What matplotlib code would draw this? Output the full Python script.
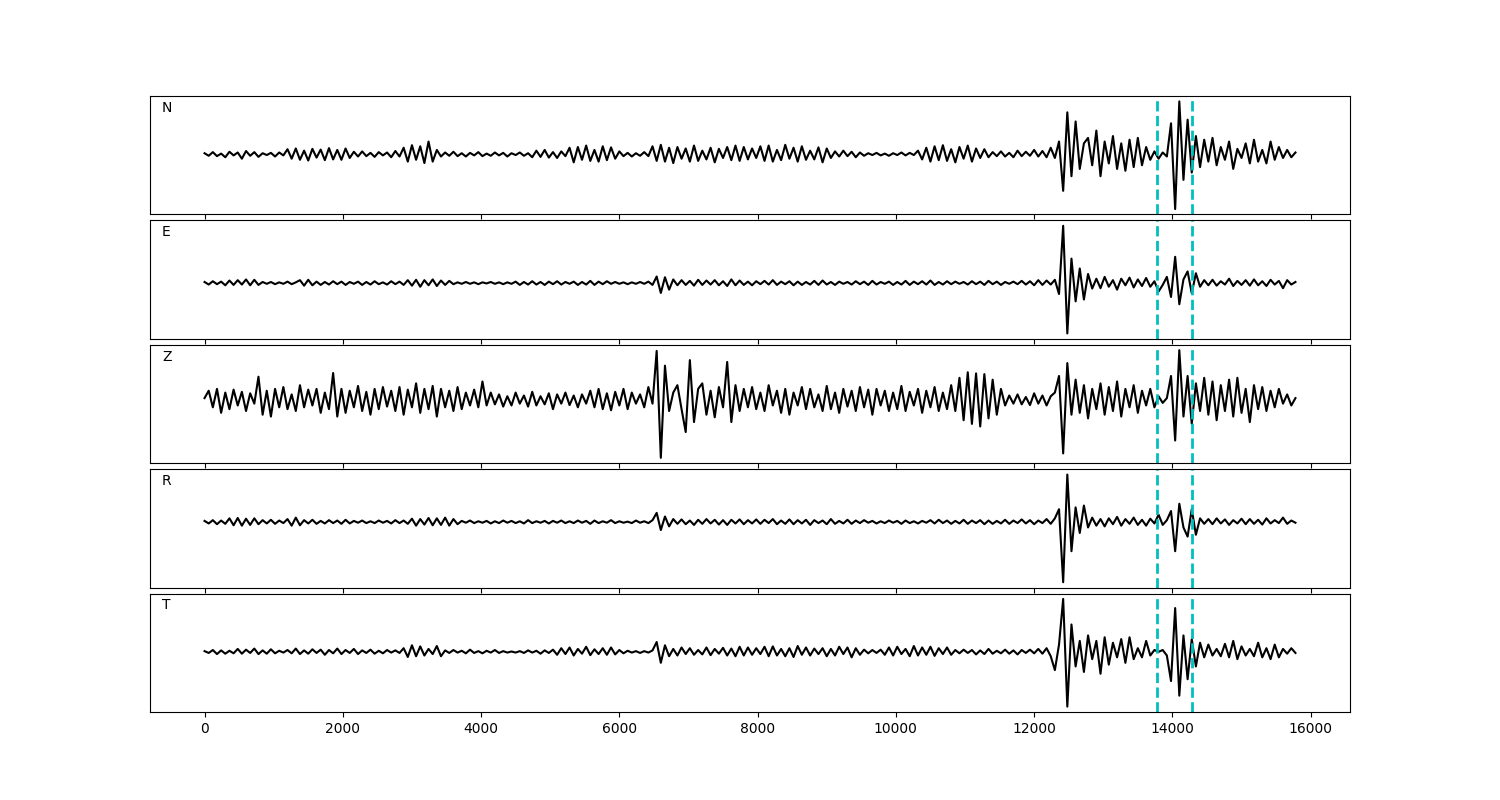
import numpy as np
import matplotlib
matplotlib.use('Agg')
import matplotlib.pyplot as plt

# one value every 60 samples (relative amplitude)
STEP = 60
components = ['N', 'E', 'Z', 'R', 'T']
picks = [13780, 14280]

trace_n = [3, -4, 6, -5, 2, -8, 7, -3, 5, -12, 9, -4, 6, -7, 3, -2, 4, -6, 5, -3,
           14, -12, 16, -15, 10, -17, 15, -9, 13, -16, 17, -14, 12, -15, 16, -10,
           7, -6, 8, -5, 4, -7, 6, -3, 5, -8, 9, -6,
           18, -20, 25, -15, 22, -24, 35, -20, 12,
           -6, 5, -4, 7, -5, 3, -6, 4, -3, 6, -5, 2, -4, 5, -3, 4, -6, 3, -2, 5, -4, 3,
           -8, 10, -7, 12, -9, 6, -10, 8, -5,
           18, -22, 20, -15, 24, -18, 12, -20, 22, -16, 19, -12, 8,
           -5, 4, -6, 3, -4, 6, -5,
           22, -18, 26, -20, 18, -24, 20, -12, 16, -20, 24, -18, 10, -14, 18, -22, 15, -10, 20, -16, 24, -18,
           20, -14, 16, -10, 22, -18, 24, -20, 12, -16, 26, -12, 18, -20, 22, -15, 10, -14, 19, -22, 16, -10,
           8, -6, 10, -5, 7, -8, 5,
           -4, 3, -2, 4, -3, 2, -4, 3, -2, 5, -3, 4, -2,
           10, -14, 18, -20, 22, -16, 25, -18, 14, -22, 20, -12, 24, -20, 16, -10, 14, -8, 6,
           -5, 8, -6, 4, -8, 10, -5, 7, -4, 12, -6, 9, -8, 18,
           -10, 35, -100, 115, -60, 90, -40, 30,
           45, -30, 65, -60, 35, -25, 50, -40, 30, -45, 40, -35, 45, -30, 20, -15,
           8, -12, 5, -6,
           85, -150, 145, -70, 95, -50,
           50, -35, 40, -20, 45, -30, 20, -15, 35, -40, 15, -10, 30, -25, 40, -20, 12, -25, 35, -15, 20, -10, 12, -8, 5]

trace_e = [3, -4, 5, -3, 4, -6, 7, -5, 8, -4, 10, -6, 9, -5,
           3, -2, 3, -3, 2, -2, 4, -3, 2,
           8, -7, 9, -6,
           4, -5, 3, -4, 5, -3, 4, -5, 3, -2, 4, -5, 3, -4, 5, -3, 2, -4, 5, -3, 4, -5,
           8, -7, 9, -10, 8, -6, 10, -8, 7, -5, 6,
           -3, 2, -2, 3, -2, 2, -3, 2, -1, 3, -2, 2, -3, 2, -2,
           4, -5, 3, -4, 5, -4, 3, -5, 4, -3, 5, -4, 3, -2, 4, -5, 3, -4, 6, -5, 4, -3, 5,
           -2, 3, -2, 2, -3, 2, -2, 3, -2, 4, -5,
           18, -27, 16, -18, 10,
           -6, 8, -5, 6, -7, 9, -5, 7, -4, 8, -6, 5, -8, 10, -6, 7,
           -5, 4, -6, 5, -3, 6, -4, 8, -5, 4, -3, 5, -6, 4, -5, 3, -4, 6, -5, 7,
           -4, 3, -5, 4, -2, 3, -4, 5, -3, 4, -5, 6, -4, 3, -2, 4, -5, 3, -4, 6,
           -5, 4, -3, 5, -4, 7, -5, 3, -4, 5, -3, 4, -2, 3, -4, 5, -3, 4, -5, 6,
           -3, 4, -5, 3, -2, 4, -3, 6, -4, 5, -6, 8, -5, 7, -4,
           9, -30, 157, -138, 67, -50, 40, -45, 25, -15,
           12, -14, 17, -10, 8, -18, 12, -6, 15, -12, 10, -8, 14, -10, 5,
           -23, -5, 17, -38, 72, -58, 10, 32, -28, 27,
           -10, 8, -6, 9, -7, 5, -4, 12, -8, 6, -5, 8, -7, 10, -6, 5, -8, 9, -4, 6, -14, 8, -4, 3]

trace_z = [5, 25, -20, 30, -35, 20, -25, 28, -15, 22, -30, 18, -10, 63, -40, 25, -45, 30, -20, 35, -25, 15, -30, 40, -20, 28, -15,
           30, -35, 20, -25, 73,
           -45, 30, -35, 25, -20, 38, -30, 22, -40, 30, -25, 35, -18, 25,
           -30, 35, -40, 28, -20, 45, -35, 30, -25, 38, -45, 30, -20, 25, -30, 35, -25, 20, -15, 28, -20, 50,
           -15, 20, -12, 15, -18, 10, -15, 20, -10, 12, -18, 22, -15, 10, -12, 18, -25, 15, -10, 20, -14, 12, -20, 15, -10,
           25, -20, 30, -25, 18, -28, 22, -15, 30, -25, 20, -10, 15, -20, 35, -10,
           133, -157, 93, -30, 20, 40, -25, -87, 108, -60, 30, 45, -40, 25, -47, 35, -20, 103, -60, 40, -30,
           30, -20, 35, -25, 20, -30, 40, -15, 25, -35, 30, -40, 20, -15, 35, -25, 30, -20, 15, -30,
           38, -25, 20, -35, 30, -18, 25, -30, 35, -20, 28, -40, 30, -15, 25, -30, 20, -25, 38, -30,
           22, -15, 30, -35, 25, -20, 35, -30, 20, -25, 40, -30,
           60, -55, 75, -65, 72, -72, 70, -50, 55, -40, 30,
           -15, 12, -10, 15, -12, 8, -14, 18, -10, 12, -15, 10, 20,
           65, -145, 100, -40,
           55, -35, 40, -50, 30, -25, 45, -40, 35, -30, 50, -45, 30, -20, 40, -35, 25, -15, 30, -20,
           10, -8, 5,
           65, -110, 135, -45, 65, -65,
           45, -30, 60, -40, 50, -55, 40, -30, 55, -45, 60, -35, 30, -60, 40, -25, 35, -30, 25, -20, 30, -10, 15, -15, 5]

trace_r = [3, -4, 5, -6, 4, -5, 10, -9, 11, -10, 9, -8, 10, -6, 5, -4, 6, -5, 4, -3, 8, -10, 12, -9,
           5, -4, 6, -5, 3, -4, 5, -3, 4, -5, 6, -4, 3, -2, 4, -3, 2, -3, 4, -2, 3, -4, 5, -3, 4, -5,
           9, -10, 8, -7, 11, -9, 10, -8, 12, -10, 8, -6,
           3, -2, 4, -3, 2, -2, 3, -4, 2, -3, 4, -2, 3, -3, 2, -4, 5, -3, 2, -2,
           3, -4, 3, -2, 4, -3, 2, -3, 4, -2, 3, -5, 4, -3, 2, -2, 5, -3, 2, -2, 1, -3, 4, -2, 2, -3, 5,
           25, -22, 15, -12, 8,
           -5, 7, -6, 4, -8, 6, -5, 8, -4, 6, -7, 5, -8, 6, -4, 7,
           -6, 5, -4, 7, -5, 6, -3, 8, -6, 4, -5, 7, -6, 5, -4, 6, -8, 5, -3, 4,
           -6, 8, -5, 3, -4, 6, -5, 4, -3, 5, -2, 3, -4, 2, -3, 4, -2, 3, -5, 4,
           -3, 2, -4, 3, -2, 5, -4, 6, -3, 4, -5, 3, -4, 6, -5, 4, -3, 5, -6, 4,
           -5, 3, -4, 6, -5, 4, -3, 7, -4, 5, -6, 4, -3, 8, -5,
           10, 35, -165, 130, -80, 40, -30, 45, -15,
           12, -10, 8, -12, 10, -6, 14, -10, 8, -5, 12, -8, 6, -10, 9, -4,
           20, -8, 5, 30, -80, 50, -15, -40, 35, -35,
           10, -5, 8, -6, 10, -4, 7, -8, 5, -4, 9, -6, 8, -5, 6, -7, 10, -4, 5, -3, 12, -5, 4, -2]

trace_t = [2, -3, 5, -6, 4, -5, 3, -4, 8, -5, 6, -3, 9, -6, 4, -5, 7, -4, 3, -2,
           5, -4, 9, -6, 4, -5, 7, -3, 6, -8, 5, -4, 9, -6, 5, -3, 8, -6, 4, -3, 6, -5, 3, -4, 5, -2, 4, -3,
           10, -14, 18, -12, 15, -10, 8, -6, 16, -12,
           4, -3, 5, -2, 3, -4, 6, -3, 2, -4, 3, -2, 5, -3, 2, -2, 1, -2, 2, -3, 4, -2, 3, -5, 4, -3, 6,
           -8, 10, -6, 12, -10, 8, -5, 14, -9, 7, -6, 10, -8, 12, -7, 5, -4,
           3, -2, 2, -3, 2, -2, 4,
           27, -30, 18, -12,
           8, -10, 12, -6, 10, -8, 5, -7, 12, -9, 8, -5, 11, -10, 9, -12, 14,
           -10, 12, -8, 10, -6, 14, -12, 15, -10, 8, -12, 10, -14, 16, -8, 12, -10, 9, -6, 10,
           -12, 8, -10, 14, -6, 12, -15, 10, -8, 6, -4, 5, -3, 6, -8, 12, -10, 14, -6, 8,
           -12, 16, -10, 12, -8, 14, -11, 10, -6, 12, -8, 5, -4, 6, -3, 5, -7, 4, -6, 8,
           -5, 3, -4, 6, -5, 4, -7, 5, -3, 6, -4, 8, -5, 10, -12,
           -50, 20, 145, -150, 75, -40, 30, -55,
           45, -20, 30, -60, 40, -35, 25, -15, 35, -30, 40, -20, 10, -15, 30, -10, 5,
           0, 5, -10, -80, 120, -120, 45, -75, 35,
           -40, 25, -15, 20, -10, 8, -12, 22, -15, 30, -20, 15, -10, 8, -12, 25, -15, 10, -20, 20, -15, 8, -5, 10, -3]

traces = [trace_n, trace_e, trace_z, trace_r, trace_t]

fig, axes = plt.subplots(5, 1, sharex=True, figsize=(15, 8), dpi=100)
plt.subplots_adjust(left=0.1, right=0.9, top=0.88, bottom=0.11, hspace=0.05)

for ax, name, tr in zip(axes, components, traces):
	t = np.arange(len(tr)) * STEP
	ax.plot(t, tr, color='k', linewidth=1.5)
	for p in picks:
		ax.axvline(p, color='c', linestyle='--', linewidth=2)
	ax.set_yticks([])
	ax.text(0.01, 0.9, name, transform=ax.transAxes, ha='left', va='center')

plt.savefig('out.png')
